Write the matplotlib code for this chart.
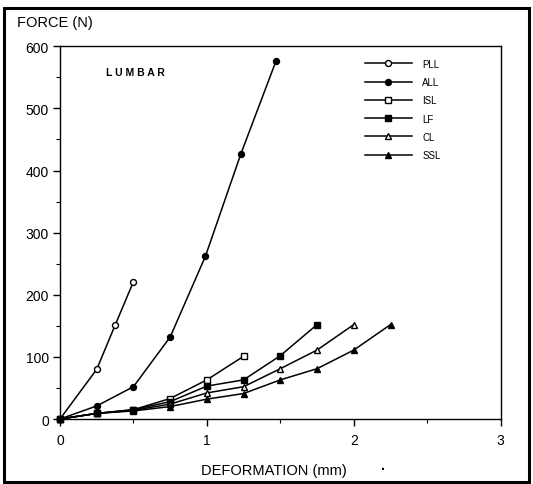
import matplotlib
matplotlib.use("Agg")
import matplotlib.pyplot as plt
from matplotlib.patches import Rectangle
from matplotlib.ticker import MultipleLocator

plt.rcParams['font.family'] = ['Liberation Sans', 'DejaVu Sans']

# Data (deformation in mm, force in N)
pll_x = [0, 0.25, 0.375, 0.5]
pll_y = [0, 80, 151, 221]
all_x = [0, 0.25, 0.5, 0.75, 0.99, 1.23, 1.47]
all_y = [0, 21, 52, 132, 262, 426, 576]
isl_x = [0, 0.25, 0.5, 0.75, 1.0, 1.25]
isl_y = [0, 9, 15, 33, 63, 101]
lf_x = [0, 0.25, 0.5, 0.75, 1.0, 1.25, 1.5, 1.75]
lf_y = [0, 9, 15, 28, 53, 63, 102, 152]
cl_x = [0, 0.25, 0.5, 0.75, 1.0, 1.25, 1.5, 1.75, 2.0]
cl_y = [0, 9, 14, 24, 42, 52, 81, 111, 152]
ssl_x = [0, 0.25, 0.5, 0.75, 1.0, 1.25, 1.5, 1.75, 2.0, 2.25]
ssl_y = [0, 9, 13, 20, 32, 41, 63, 81, 111, 152]

series = [
    ("PLL", pll_x, pll_y, 'o', 'white'),
    ("ALL", all_x, all_y, 'o', 'black'),
    ("ISL", isl_x, isl_y, 's', 'white'),
    ("LF", lf_x, lf_y, 's', 'black'),
    ("CL", cl_x, cl_y, '^', 'white'),
    ("SSL", ssl_x, ssl_y, '^', 'black'),
]

fig = plt.figure(figsize=(5.33, 4.85), dpi=100)
ax = fig.add_axes([60/533, 1-420/485, (500.7-60)/533, (420-47.3)/485])

for name, xs, ys, m, fc in series:
    ax.plot(xs, ys, color='black', lw=1.1, marker=m, markersize=4.3,
            markerfacecolor=fc, markeredgecolor='black', markeredgewidth=1.0,
            label=name, clip_on=False, zorder=3)

ax.set_xlim(0, 3)
ax.set_ylim(0, 600)
ax.xaxis.set_major_locator(MultipleLocator(1))
ax.xaxis.set_minor_locator(MultipleLocator(0.5))
ax.yaxis.set_major_locator(MultipleLocator(100))
ax.yaxis.set_minor_locator(MultipleLocator(50))
ax.tick_params(which='major', direction='out', length=5, width=1.0, labelsize=10, pad=3)
ax.tick_params(which='minor', direction='out', length=3, width=0.8)
ax.tick_params(axis='x', pad=5)
for s in ax.spines.values():
    s.set_linewidth(1.0)

ax.text(0.105, 0.932, "L U M B A R", transform=ax.transAxes, fontsize=7.5,
        fontweight='bold', ha='left', va='center')

leg = ax.legend(loc='upper left', bbox_to_anchor=(0.683, 0.977), frameon=False,
                fontsize=7, handlelength=4.8, handletextpad=1.1,
                labelspacing=0.85, borderaxespad=0)

fig.text(17/533, 1-23/485, "FORCE (N)", fontsize=10.5, ha='left', va='center')
fig.text(274/533, 1-471/485, "DEFORMATION (mm)", fontsize=10.5, ha='center', va='center')
fig.text(383/533, 1-470/485, "\u00b7", fontsize=10, ha='center', va='center', fontweight='bold')

fig.patches.append(Rectangle((4/533, 1-483/485), (529-4)/533, (483-9)/485,
                             transform=fig.transFigure, fill=False,
                             edgecolor='black', lw=2.2))

fig.savefig("out.png", dpi=100)
